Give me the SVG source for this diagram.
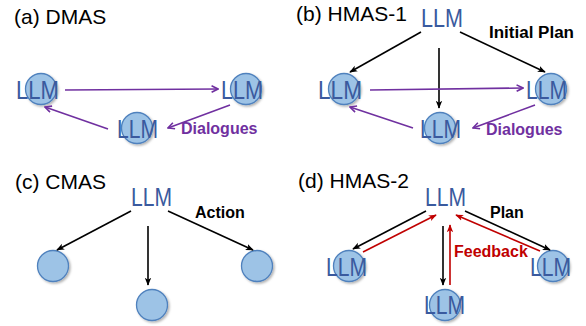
<svg xmlns="http://www.w3.org/2000/svg" width="586" height="326" viewBox="0 0 586 326">
<style>
.title{font-family:"Liberation Sans",Arial,sans-serif;font-size:21px;fill:#000}
.llm{font-family:"Liberation Sans",Arial,sans-serif;font-size:25px;fill:#3a5a9e}
.lbl{font-family:"Liberation Sans",Arial,sans-serif;font-size:16px;font-weight:bold}
.node{fill:#9dc3e6;stroke:#4f81bd;stroke-width:1.3;filter:url(#sh)}
.k{stroke:#000;stroke-width:1.6;fill:none;marker-end:url(#ak)}
.p{stroke:#7030a0;stroke-width:1.6;fill:none;marker-end:url(#ap)}
.r{stroke:#c00000;stroke-width:1.6;fill:none;marker-end:url(#ar)}
</style>
<defs>
<filter id="sh" x="-30%" y="-30%" width="170%" height="170%">
<feDropShadow dx="1.5" dy="1.5" stdDeviation="1" flood-color="#000" flood-opacity="0.3"/>
</filter>
<marker id="ak" viewBox="0 0 10 10" refX="9" refY="5" markerWidth="8" markerHeight="8" markerUnits="userSpaceOnUse" orient="auto"><path d="M0,1 L10,5 L0,9 L2.5,5 z" fill="#000"/></marker>
<marker id="ap" viewBox="0 0 10 10" refX="9" refY="5" markerWidth="8" markerHeight="8" markerUnits="userSpaceOnUse" orient="auto"><path d="M1,1 L9,5 L1,9" fill="none" stroke="#7030a0" stroke-width="2"/></marker>
<marker id="ar" viewBox="0 0 10 10" refX="9" refY="5" markerWidth="8" markerHeight="8" markerUnits="userSpaceOnUse" orient="auto"><path d="M0,1 L10,5 L0,9 L2.5,5 z" fill="#c00000"/></marker>
</defs>
<rect width="586" height="326" fill="#fff"/>

<text class="title" x="14" y="24">(a) DMAS</text>
<text class="title" x="296" y="21">(b) HMAS-1</text>
<text class="title" x="15" y="189">(c) CMAS</text>
<text class="title" x="298" y="188">(d) HMAS-2</text>

<g id="a-left"><circle class="node" cx="41" cy="89" r="15.5"/><text class="llm" x="16" y="99" textLength="43" lengthAdjust="spacingAndGlyphs">LLM</text></g>
<g id="a-right"><circle class="node" cx="246" cy="89" r="15.5"/><text class="llm" x="221" y="99" textLength="42" lengthAdjust="spacingAndGlyphs">LLM</text></g>
<g id="a-bottom"><circle class="node" cx="137" cy="128" r="15.5"/><text class="llm" x="117" y="138" textLength="41" lengthAdjust="spacingAndGlyphs">LLM</text></g>

<g id="b-top"><text class="llm" x="421" y="27" textLength="42" lengthAdjust="spacingAndGlyphs">LLM</text></g>
<g id="b-left"><circle class="node" cx="344" cy="89" r="15.5"/><text class="llm" x="318" y="99" textLength="44" lengthAdjust="spacingAndGlyphs">LLM</text></g>
<g id="b-right"><circle class="node" cx="551" cy="89" r="15.5"/><text class="llm" x="526" y="99" textLength="41" lengthAdjust="spacingAndGlyphs">LLM</text></g>
<g id="b-bottom"><circle class="node" cx="440" cy="128" r="15.5"/><text class="llm" x="420" y="138" textLength="41" lengthAdjust="spacingAndGlyphs">LLM</text></g>

<g id="c-top"><text class="llm" x="131" y="206" textLength="41" lengthAdjust="spacingAndGlyphs">LLM</text></g>
<g id="c-left"><circle class="node" cx="53" cy="266" r="15.5"/></g>
<g id="c-right"><circle class="node" cx="257" cy="266" r="15.5"/></g>
<g id="c-bottom"><circle class="node" cx="152" cy="305" r="15.5"/></g>

<g id="d-top"><text class="llm" x="425" y="206" textLength="41" lengthAdjust="spacingAndGlyphs">LLM</text></g>
<g id="d-left"><circle class="node" cx="349" cy="266" r="15.5"/><text class="llm" x="326" y="276" textLength="41" lengthAdjust="spacingAndGlyphs">LLM</text></g>
<g id="d-right"><circle class="node" cx="553" cy="266" r="15.5"/><text class="llm" x="530" y="276" textLength="41" lengthAdjust="spacingAndGlyphs">LLM</text></g>
<g id="d-bottom"><circle class="node" cx="445" cy="305" r="15.5"/><text class="llm" x="424" y="314" textLength="41" lengthAdjust="spacingAndGlyphs">LLM</text></g>

<g id="connectors">
<line class="p" x1="65" y1="90" x2="218" y2="89"/>
<line class="p" x1="230" y1="105" x2="168" y2="128"/>
<line class="p" x1="108" y1="129" x2="45" y2="107"/>

<line class="k" x1="421" y1="32" x2="350" y2="72"/>
<line class="k" x1="460" y1="32" x2="545" y2="72"/>
<line class="k" x1="439" y1="48" x2="439" y2="108"/>
<line class="p" x1="370" y1="90" x2="523" y2="88"/>
<line class="p" x1="535" y1="105" x2="473" y2="128"/>
<line class="p" x1="413" y1="128" x2="350" y2="107"/>

<line class="k" x1="131" y1="211" x2="57" y2="250"/>
<line class="k" x1="168" y1="211" x2="253" y2="250"/>
<line class="k" x1="148" y1="226" x2="148" y2="285"/>

<line class="k" x1="426" y1="211" x2="353" y2="249"/>
<line class="k" x1="465" y1="211" x2="550" y2="250"/>
<line class="k" x1="443" y1="226" x2="443" y2="285"/>
<line class="r" x1="363" y1="252" x2="436" y2="215"/>
<line class="r" x1="450" y1="285" x2="450" y2="225"/>
<line class="r" x1="540" y1="251" x2="456" y2="215"/>
</g>

<text class="lbl" x="181" y="134" fill="#7030a0">Dialogues</text>
<text class="lbl" x="489" y="38" fill="#000" textLength="85" lengthAdjust="spacingAndGlyphs">Initial Plan</text>
<text class="lbl" x="486" y="135" fill="#7030a0">Dialogues</text>
<text class="lbl" x="195" y="218" fill="#000">Action</text>
<text class="lbl" x="490" y="218" fill="#000">Plan</text>
<text class="lbl" x="454" y="257" fill="#c00000">Feedback</text>
</svg>
